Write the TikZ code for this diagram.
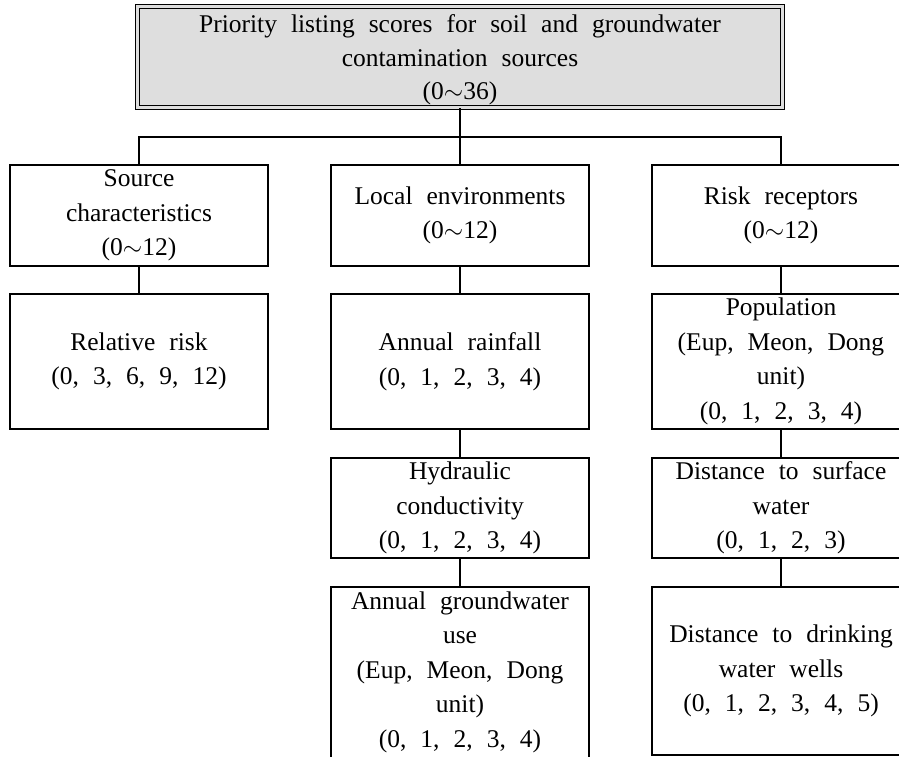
\documentclass[tikz,border=0pt]{standalone}
\usepackage{fontspec}
\setmainfont{Liberation Serif}[WordSpace={2.2}]
\definecolor{topgray}{HTML}{DEDEDE}
\begin{document}
\begin{tikzpicture}[x=1pt,y=1pt,
  box/.style={draw=black, line width=2.8pt, rectangle, inner sep=0pt, align=center,
    minimum width=258pt, font=\fontsize{25.5}{34.5}\selectfont},
  topbox/.style={draw=black, double=topgray, double distance=2.4pt, line width=1.2pt,
    fill=topgray, rectangle, inner sep=0pt, align=center, minimum width=645pt,
    minimum height=101pt},
  toptext/.style={inner sep=0pt, align=center, font=\fontsize{25.5}{33.5}\selectfont},
  conn/.style={line width=2.8pt}]
\clip (0,0) rectangle (899,-757);
\useasboundingbox (0,0) rectangle (899,-757);
% top
\node[topbox] (top) at (460,-57) {};
\node[toptext] (topt) at (460,-60) {Priority listing scores for soil and groundwater\\contamination sources\\(0\ensuremath{\sim}36)};
% row 1
\node[box, minimum height=101pt] (src) at (139,-215.5) {Source\\characteristics\\(0\ensuremath{\sim}12)};
\node[box, minimum height=101pt] (loc) at (460,-215.5) {Local environments\\(0\ensuremath{\sim}12)};
\node[box, minimum height=101pt] (rr) at (781,-215.5) {Risk receptors\\(0\ensuremath{\sim}12)};
% row 2
\node[box, minimum height=135pt] (rel) at (139,-361.5) {Relative risk\\(0, 3, 6, 9, 12)};
\node[box, minimum height=135pt] (rain) at (460,-361.5) {Annual rainfall\\(0, 1, 2, 3, 4)};
\node[box, minimum height=135pt] (pop) at (781,-361.5) {Population\\(Eup, Meon, Dong\\unit)\\(0, 1, 2, 3, 4)};
% row 3
\node[box, minimum height=100pt] (hyd) at (460,-508) {Hydraulic\\conductivity\\(0, 1, 2, 3, 4)};
\node[box, minimum height=100pt] (surf) at (781,-508) {Distance to surface\\water\\(0, 1, 2, 3)};
% row 4
\node[box, minimum height=174pt] (gw) at (460,-674) {};
\node[font=\fontsize{25.5}{34.5}\selectfont, align=center, inner sep=0pt] (gwt) at (460,-672) {Annual groundwater\\use\\(Eup, Meon, Dong\\unit)\\(0, 1, 2, 3, 4)};
\node[box, minimum height=168pt] (well) at (781,-671) {Distance to drinking\\water wells\\(0, 1, 2, 3, 4, 5)};
% connectors
\coordinate (j) at (460,-137);
\draw[conn] (top.south) -- (j);
\draw[conn] (src.north) -- (src.north |- j) -- (rr.north |- j) -- (rr.north);
\draw[conn] (j) -- (loc.north);
\draw[conn] (src.south) -- (rel.north);
\draw[conn] (loc.south) -- (rain.north);
\draw[conn] (rain.south) -- (hyd.north);
\draw[conn] (hyd.south) -- (gw.north);
\draw[conn] (rr.south) -- (pop.north);
\draw[conn] (pop.south) -- (surf.north);
\draw[conn] (surf.south) -- (well.north);
\end{tikzpicture}
\end{document}
